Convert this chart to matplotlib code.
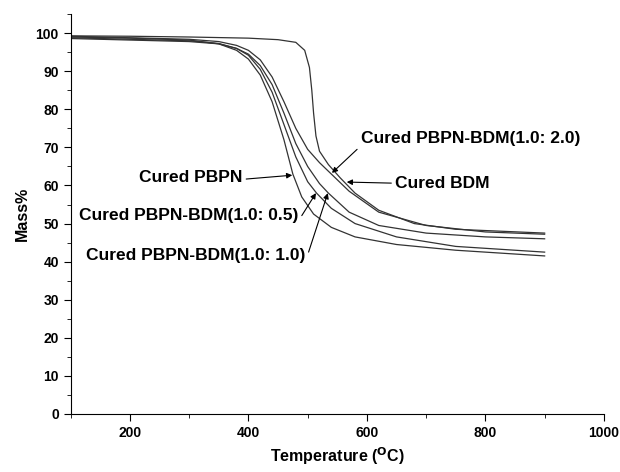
import matplotlib
matplotlib.use("Agg")
import matplotlib.pyplot as plt
from matplotlib.ticker import MultipleLocator

plt.rcParams['font.family'] = ['Liberation Sans', 'DejaVu Sans']
plt.rcParams['font.weight'] = 'bold'

# TGA curves (temperature in C, mass in %)
T_pbpn = [100, 200, 300, 350, 380, 400, 420, 440, 460, 475, 490, 510, 540, 580, 650, 750, 900]
m_pbpn = [99.0, 98.7, 98.2, 97.2, 95.5, 93.2, 89.0, 82.0, 72.0, 63.0, 57.0, 52.5, 49.0, 46.5, 44.5, 43.0, 41.5]

T_05 = [100, 200, 300, 350, 380, 400, 420, 440, 460, 480, 500, 515, 540, 580, 650, 750, 900]
m_05 = [98.8, 98.4, 98.0, 97.3, 96.0, 94.2, 90.5, 84.5, 76.0, 67.5, 61.0, 58.0, 54.0, 50.0, 46.5, 44.0, 42.5]

T_10 = [100, 200, 300, 350, 380, 400, 420, 440, 460, 480, 500, 520, 535, 570, 620, 700, 800, 900]
m_10 = [98.6, 98.2, 97.8, 97.2, 96.0, 94.5, 91.5, 86.5, 79.0, 71.0, 65.0, 60.5, 58.0, 53.0, 49.5, 47.5, 46.5, 46.0]

T_20 = [100, 200, 300, 350, 380, 400, 420, 440, 460, 480, 500, 520, 540, 570, 620, 700, 800, 900]
m_20 = [99.2, 98.8, 98.4, 97.8, 96.8, 95.5, 93.0, 88.5, 82.0, 75.0, 69.5, 66.0, 63.0, 58.5, 53.0, 49.5, 47.8, 47.2]

T_bdm = [100, 200, 300, 400, 450, 480, 495, 503, 507, 510, 514, 520, 535, 555, 580, 620, 680, 750, 900]
m_bdm = [99.3, 99.2, 99.0, 98.7, 98.3, 97.6, 95.5, 91.0, 85.0, 79.0, 73.0, 69.0, 65.5, 62.0, 58.0, 53.5, 50.0, 48.5, 47.5]

fig = plt.figure(figsize=(6.2, 4.72), dpi=100)
ax = fig.add_axes([0.114, 0.123, 0.860, 0.847])

for T, m in [(T_pbpn, m_pbpn), (T_05, m_05), (T_10, m_10), (T_20, m_20), (T_bdm, m_bdm)]:
    ax.plot(T, m, color='#333333', lw=0.9)

ax.set_xlim(100, 1000)
ax.set_ylim(0, 105)
ax.xaxis.set_minor_locator(MultipleLocator(100))
ax.yaxis.set_major_locator(MultipleLocator(10))
ax.yaxis.set_minor_locator(MultipleLocator(5))
ax.set_xticks([200, 400, 600, 800, 1000])
ax.spines['top'].set_visible(False)
ax.spines['right'].set_visible(False)
ax.tick_params(which='major', direction='out', length=5, labelsize=10)
ax.tick_params(which='minor', direction='out', length=3)

ax.set_xlabel('Temperature ($\\mathbf{^{O}}$C)', fontsize=11.5, fontweight='bold')
ax.set_ylabel('Mass%', fontsize=11.5, fontweight='bold')

def arrow(rx, ry):
    return dict(arrowstyle='-|>', color='black', lw=0.8, mutation_scale=8,
                relpos=(rx, ry), shrinkA=1, shrinkB=0)

fs = 12.5
ax.annotate('Cured PBPN', xy=(474, 62.7), xytext=(302, 62), fontsize=fs,
            ha='center', va='center', arrowprops=arrow(1.0, 0.4))
ax.annotate('Cured PBPN-BDM(1.0: 0.5)', xy=(514, 58.0), xytext=(299, 52.2), fontsize=fs,
            ha='center', va='center', arrowprops=arrow(1.0, 0.1))
ax.annotate('Cured PBPN-BDM(1.0: 1.0)', xy=(534, 58.0), xytext=(311, 41.5), fontsize=fs,
            ha='center', va='center', arrowprops=arrow(1.0, 0.1))
ax.annotate('Cured PBPN-BDM(1.0: 2.0)', xy=(541, 63.3), xytext=(775, 72.4), fontsize=fs,
            ha='center', va='center', arrowprops=arrow(0.0, 0.0))
ax.annotate('Cured BDM', xy=(566, 60.9), xytext=(728, 60.6), fontsize=fs,
            ha='center', va='center', arrowprops=arrow(0.0, 0.5))

fig.savefig('out.png', dpi=100)
